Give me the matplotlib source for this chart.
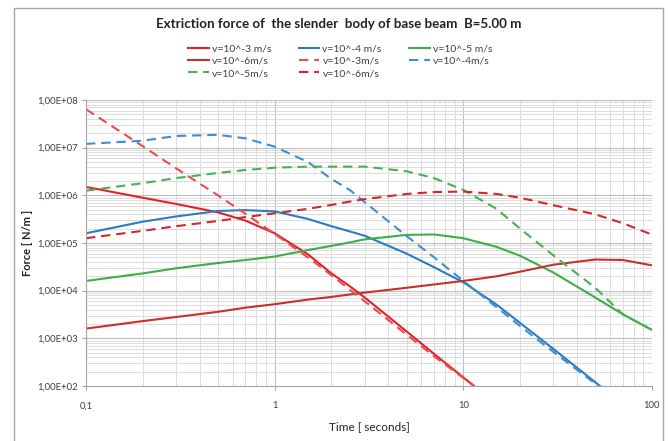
import numpy as np
import matplotlib
matplotlib.use("Agg")
import matplotlib.pyplot as plt
from matplotlib.ticker import FixedLocator, FuncFormatter, NullFormatter
from matplotlib.patches import Rectangle

plt.rcParams['font.family'] = ['Lato', 'DejaVu Sans']

# temps (s) des points
t = [0.1, 0.2, 0.3, 0.5, 0.7, 1, 1.5, 2, 2.5, 3, 5, 7, 10, 15, 20, 30, 50, 70, 100]

# courbes pleines
t_v3 = [0.1, 0.2, 0.3, 0.5, 0.7, 1, 1.5, 2, 2.5, 3, 5, 7, 11.4]
f_v3 = [1.5e6, 8.9e5, 6.6e5, 4.4e5, 2.95e5, 1.6e5, 5.8e4, 2.3e4, 1.24e4, 7.2e3, 1.4e3, 4.7e2, 1.0e2]

t_v4 = [0.1, 0.2, 0.3, 0.5, 0.7, 1, 1.5, 2, 2.5, 3, 5, 7, 10, 15, 20, 30, 53]
f_v4 = [1.6e5, 2.8e5, 3.6e5, 4.7e5, 4.9e5, 4.6e5, 3.2e5, 2.25e5, 1.75e5, 1.42e5, 6.0e4, 3.1e4, 1.5e4,
        5.1e3, 2.1e3, 6.0e2, 1.0e2]

f_v5 = [1.6e4, 2.3e4, 2.95e4, 3.8e4, 4.4e4, 5.2e4, 7.1e4, 8.7e4, 1.03e5, 1.19e5, 1.48e5, 1.51e5, 1.26e5,
        8.3e4, 5.4e4, 2.4e4, 7.2e3, 3.2e3, 1.5e3]

f_v6 = [1.6e3, 2.3e3, 2.8e3, 3.6e3, 4.4e3, 5.2e3, 6.5e3, 7.4e3, 8.3e3, 9.1e3, 1.15e4, 1.35e4, 1.6e4,
        2.0e4, 2.5e4, 3.5e4, 4.5e4, 4.4e4, 3.4e4]

# courbes pointillees
td_v3 = [0.1, 0.2, 0.3, 0.5, 0.7, 1, 1.5, 2, 2.5, 3, 5, 7, 11.4]
fd_v3 = [6.4e7, 1.07e7, 3.7e6, 1.0e6, 4.1e5, 1.55e5, 5.0e4, 2.1e4, 1.05e4, 6.0e3, 1.2e3, 4.2e2, 1.0e2]

td_v4 = [0.1, 0.2, 0.3, 0.5, 0.7, 1, 1.5, 2, 2.5, 3, 5, 7, 10, 15, 20, 30, 52]
fd_v4 = [1.2e7, 1.4e7, 1.76e7, 1.86e7, 1.57e7, 1.05e7, 5.0e6, 2.2e6, 1.3e6, 7.2e5, 1.4e5, 5.0e4, 1.6e4,
         4.5e3, 1.8e3, 5.2e2, 1.0e2]

fd_v5 = [1.25e6, 1.8e6, 2.3e6, 2.95e6, 3.4e6, 3.8e6, 4.0e6, 4.0e6, 4.0e6, 4.0e6, 3.2e6, 2.3e6, 1.3e6,
         5.2e5, 2.0e5, 5.5e4, 1.15e4, 3.2e3, 1.5e3]

fd_v6 = [1.26e5, 1.8e5, 2.25e5, 2.9e5, 3.5e5, 4.2e5, 5.2e5, 6.3e5, 7.4e5, 8.3e5, 1.07e6, 1.17e6, 1.2e6,
         1.07e6, 8.9e5, 6.2e5, 4.0e5, 2.6e5, 1.5e5]

red = '#E32227'
dred = '#C9302C'
red_d = '#EE4B4B'
dred_d = '#CF2A2A'
blue = '#2A7CC4'
blue_d = '#3C8FD6'
green = '#3DAE4A'
green_d = '#46B152'

fig = plt.figure(figsize=(6.68, 4.41), dpi=100)
ax = fig.add_axes([86 / 668, 1 - 386 / 441, (652 - 86) / 668, (386 - 100) / 441])

lw = 1.5
dash = (0, (4.5, 2.8))
l1, = ax.plot(t_v3, f_v3, color=red, lw=lw, label='v=10^-3 m/s')
l2, = ax.plot(t_v4, f_v4, color=blue, lw=lw, label='v=10^-4 m/s')
l3, = ax.plot(t, f_v5, color=green, lw=lw, label='v=10^-5 m/s')
l4, = ax.plot(t, f_v6, color=dred, lw=lw, label='v=10^-6m/s')
l5, = ax.plot(td_v3, fd_v3, color=red_d, lw=lw, ls=dash, label='v=10^-3m/s')
l6, = ax.plot(td_v4, fd_v4, color=blue_d, lw=lw, ls=dash, label='v=10^-4m/s')
l7, = ax.plot(t, fd_v5, color=green_d, lw=lw, ls=dash, label='v=10^-5m/s')
l8, = ax.plot(t, fd_v6, color=dred_d, lw=lw, ls=dash, label='v=10^-6m/s')

ax.set_xscale('log')
ax.set_yscale('log')
ax.set_xlim(0.1, 100)
ax.set_ylim(1e2, 1e8)

ax.xaxis.set_major_locator(FixedLocator([0.1, 1, 10, 100]))
ax.xaxis.set_major_formatter(FuncFormatter(lambda v, p: ('%g' % v).replace('.', ',')))
ax.yaxis.set_major_locator(FixedLocator([10.0 ** k for k in range(2, 9)]))
ax.yaxis.set_major_formatter(FuncFormatter(lambda v, p: ('%.2E' % v).replace('.', ',')))
ax.xaxis.set_minor_formatter(NullFormatter())
ax.yaxis.set_minor_formatter(NullFormatter())

ax.grid(True, which='major', color='#BFBFBF', lw=0.8)
ax.grid(True, which='minor', color='#DCDCDC', lw=0.7)
ax.set_axisbelow(True)
for s in ['top', 'right']:
    ax.spines[s].set_visible(False)
for s in ['left', 'bottom']:
    ax.spines[s].set_color('#A6A6A6')
ax.tick_params(which='major', length=3, color='#A6A6A6', labelsize=6.8, labelcolor='#404040', pad=3)
ax.tick_params(which='minor', length=0)
ax.tick_params(axis='x', pad=8)

ax.set_xlabel('Time [ seconds]', fontsize=8.5, color='#222222', labelpad=8)
ax.set_ylabel('Force [ N/m ]', fontsize=8, fontweight='bold', color='#222222')
ax.yaxis.set_label_coords(-(86 - 33) / 566, 0.5)

fig.text(0.507, 1 - 24 / 441, 'Extriction force of  the slender  body of base beam  B=5.00 m',
         ha='center', va='center', fontsize=9.6, fontweight='bold', color='#222222')

handles = [l1, l4, l7, l2, l5, l8, l3, l6]
fig.legend(handles, [h.get_label() for h in handles], ncol=3, frameon=False,
           loc='upper left', bbox_to_anchor=(188 / 668, 1 - 44 / 441),
           fontsize=7.5, handlelength=2.0, handletextpad=0.3, columnspacing=2.6,
           labelspacing=0.3, labelcolor='#404040', borderaxespad=0, borderpad=0)

fig.patches.append(Rectangle((14 / 668, -0.02), (663 - 14) / 668, 1.02 - 8 / 441,
                             transform=fig.transFigure, fill=False, edgecolor='#A6A6A6', lw=1))

fig.savefig('out.png', dpi=100)
